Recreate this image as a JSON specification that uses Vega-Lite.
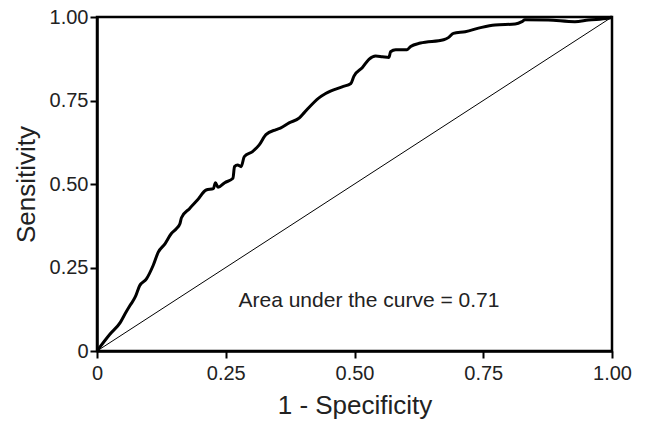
{
  "$schema": "https://vega.github.io/schema/vega-lite/v6.json",
  "width": 515,
  "height": 334,
  "autosize": {"type": "none"},
  "padding": {"left": 97, "top": 17, "right": 35, "bottom": 70},
  "background": "white",
  "config": {
    "font": "Liberation Sans",
    "view": {"stroke": "black", "strokeWidth": 2.5},
    "axis": {
      "domainColor": "black",
      "domainWidth": 2.5,
      "tickColor": "black",
      "tickWidth": 2,
      "tickSize": 7,
      "grid": false,
      "labelFont": "Liberation Sans",
      "labelFontSize": 20,
      "labelColor": "#222",
      "titleFont": "Liberation Sans",
      "titleFontSize": 26,
      "titleFontWeight": "normal",
      "titleColor": "#222"
    }
  },
  "layer": [
    {
      "data": {"values": [{"x": 0, "y": 0}, {"x": 1, "y": 1}]},
      "mark": {"type": "line", "color": "black", "strokeWidth": 1},
      "encoding": {
        "x": {"field": "x", "type": "quantitative", "scale": {"domain": [0, 1]},
          "axis": {"title": "1 - Specificity", "values": [0, 0.25, 0.5, 0.75, 1], "labelExpr": "datum.value == 0 ? '0' : format(datum.value, '.2f')", "labelPadding": 5, "titlePadding": 9, "labelFlush": false}},
        "y": {"field": "y", "type": "quantitative", "scale": {"domain": [0, 1]},
          "axis": {"title": "Sensitivity", "values": [0, 0.25, 0.5, 0.75, 1], "labelExpr": "datum.value == 0 ? '0' : format(datum.value, '.2f')", "labelPadding": 2, "titlePadding": 10, "labelFlush": false}}
      }
    },
    {
      "data": {"values": [
        {"i": 0, "fpr": 0.0, "tpr": 0.0},
        {"i": 1, "fpr": 0.025, "tpr": 0.05},
        {"i": 2, "fpr": 0.045, "tpr": 0.085},
        {"i": 3, "fpr": 0.054, "tpr": 0.11},
        {"i": 4, "fpr": 0.064, "tpr": 0.136},
        {"i": 5, "fpr": 0.074, "tpr": 0.161},
        {"i": 6, "fpr": 0.083, "tpr": 0.196},
        {"i": 7, "fpr": 0.096, "tpr": 0.216},
        {"i": 8, "fpr": 0.109, "tpr": 0.256},
        {"i": 9, "fpr": 0.119, "tpr": 0.296},
        {"i": 10, "fpr": 0.132, "tpr": 0.321},
        {"i": 11, "fpr": 0.144, "tpr": 0.351},
        {"i": 12, "fpr": 0.154, "tpr": 0.366},
        {"i": 13, "fpr": 0.161, "tpr": 0.381},
        {"i": 14, "fpr": 0.164, "tpr": 0.399},
        {"i": 15, "fpr": 0.18, "tpr": 0.427},
        {"i": 16, "fpr": 0.195, "tpr": 0.452},
        {"i": 17, "fpr": 0.212, "tpr": 0.482},
        {"i": 18, "fpr": 0.226, "tpr": 0.486},
        {"i": 19, "fpr": 0.23, "tpr": 0.504},
        {"i": 20, "fpr": 0.235, "tpr": 0.49},
        {"i": 21, "fpr": 0.248, "tpr": 0.504},
        {"i": 22, "fpr": 0.264, "tpr": 0.517},
        {"i": 23, "fpr": 0.267, "tpr": 0.552},
        {"i": 24, "fpr": 0.273, "tpr": 0.557},
        {"i": 25, "fpr": 0.28, "tpr": 0.552},
        {"i": 26, "fpr": 0.286, "tpr": 0.582},
        {"i": 27, "fpr": 0.302, "tpr": 0.597},
        {"i": 28, "fpr": 0.315, "tpr": 0.617},
        {"i": 29, "fpr": 0.328, "tpr": 0.648},
        {"i": 30, "fpr": 0.348, "tpr": 0.663},
        {"i": 31, "fpr": 0.357, "tpr": 0.668},
        {"i": 32, "fpr": 0.373, "tpr": 0.683},
        {"i": 33, "fpr": 0.393, "tpr": 0.698},
        {"i": 34, "fpr": 0.402, "tpr": 0.713},
        {"i": 35, "fpr": 0.431, "tpr": 0.758},
        {"i": 36, "fpr": 0.444, "tpr": 0.771},
        {"i": 37, "fpr": 0.476, "tpr": 0.791},
        {"i": 38, "fpr": 0.493, "tpr": 0.801},
        {"i": 39, "fpr": 0.499, "tpr": 0.823},
        {"i": 40, "fpr": 0.515, "tpr": 0.848},
        {"i": 41, "fpr": 0.528, "tpr": 0.873},
        {"i": 42, "fpr": 0.541, "tpr": 0.883},
        {"i": 43, "fpr": 0.554, "tpr": 0.881},
        {"i": 44, "fpr": 0.567, "tpr": 0.879},
        {"i": 45, "fpr": 0.57, "tpr": 0.896},
        {"i": 46, "fpr": 0.58, "tpr": 0.902},
        {"i": 47, "fpr": 0.602, "tpr": 0.902},
        {"i": 48, "fpr": 0.609, "tpr": 0.912},
        {"i": 49, "fpr": 0.628, "tpr": 0.922},
        {"i": 50, "fpr": 0.673, "tpr": 0.932},
        {"i": 51, "fpr": 0.683, "tpr": 0.939},
        {"i": 52, "fpr": 0.692, "tpr": 0.951},
        {"i": 53, "fpr": 0.715, "tpr": 0.956},
        {"i": 54, "fpr": 0.747, "tpr": 0.969},
        {"i": 55, "fpr": 0.773, "tpr": 0.976},
        {"i": 56, "fpr": 0.812, "tpr": 0.979},
        {"i": 57, "fpr": 0.825, "tpr": 0.986},
        {"i": 58, "fpr": 0.831, "tpr": 0.992},
        {"i": 59, "fpr": 0.876, "tpr": 0.991},
        {"i": 60, "fpr": 0.928, "tpr": 0.986},
        {"i": 61, "fpr": 0.954, "tpr": 0.991},
        {"i": 62, "fpr": 0.992, "tpr": 0.996},
        {"i": 63, "fpr": 1.0, "tpr": 1.0}
      ]},
      "mark": {"type": "line", "color": "black", "strokeWidth": 3, "interpolate": "monotone"},
      "encoding": {
        "x": {"field": "fpr", "type": "quantitative"},
        "y": {"field": "tpr", "type": "quantitative"},
        "order": {"field": "i", "type": "quantitative"}
      }
    },
    {
      "data": {"values": [{"x": 0.528, "y": 0.132, "label": "Area under the curve = 0.71"}]},
      "mark": {"type": "text", "fontSize": 21, "color": "#222", "font": "Liberation Sans", "align": "center", "baseline": "alphabetic"},
      "encoding": {
        "x": {"field": "x", "type": "quantitative"},
        "y": {"field": "y", "type": "quantitative"},
        "text": {"field": "label"}
      }
    }
  ]
}
